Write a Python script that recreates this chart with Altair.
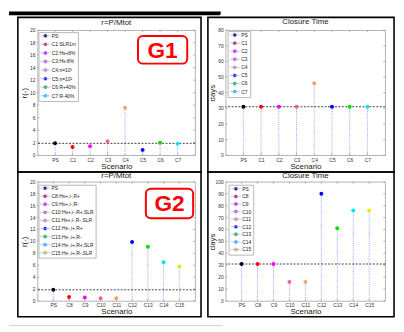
import altair as alt
import pandas as pd

# ---------------- data ----------------
g1_scen = ["PS", "C1", "C2", "C3", "C4", "C5", "C6", "C7"]
g1_leg_r = ["PS", "C1:SLR1m", "C2:Hs+8%", "C3:Hs-8%", "C4:n=10³", "C5:n=10²", "C6:R+40%", "C7:R-40%"]
g1_r = [1.9, 1.3, 1.45, 2.25, 7.6, 0.85, 2.0, 1.85]
g1_days = [31, 31, 31, 31, 46, 31, 31, 31]
g1_colors = ["#000022", "#ff0000", "#ff00ff", "#f0609a", "#f4a460", "#0000ff", "#00dd00", "#00e5ff"]

g2_scen = ["PS", "C8", "C9", "C10", "C11", "C12", "C13", "C14", "C15"]
g2_leg_r = ["PS", "C8:Hs+,i-,R+", "C9:Hs+,i-,R-", "C10:Hs+,i-,R+,SLR", "C11:Hs+,i-,R-,SLR",
            "C12:Hs-,i+,R+", "C13:Hs-,i+,R-", "C14:Hs-,i+,R+,SLR", "C15:Hs-,i+,R-,SLR"]
g2_r = [1.87, 0.66, 0.6, 0.45, 0.45, 9.9, 9.1, 6.5, 5.8]
g2_days = [31, 31, 31, 16, 16, 90, 61, 76, 76]
g2_colors = ["#000022", "#ff0000", "#ff00ff", "#f0609a", "#f4a460", "#0000ff", "#00dd00", "#00e5ff", "#e8e800"]

r_ticks = [0, 2, 4, 6, 8, 10, 12, 14, 16, 18, 20]
days80_ticks = [0, 10, 20, 30, 40, 50, 60, 70, 80]
days100_ticks = [0, 10, 20, 30, 40, 50, 60, 70, 80, 90, 100]

panel_titles = ["r=P/Mtot", "Closure Time", "r=P/Mtot", "Closure Time"]
badges = ["G1", "G2"]

FONT = "Liberation Sans"
STEM = "#9aa0ff"
TICK = "#8a8a8a"
SYM = "M-1,0L1,0M0.35,0A0.35,0.35,0,1,1,-0.35,0A0.35,0.35,0,1,1,0.35,0Z"


def panel(scen, leg, vals, colors, ticks, title, title_y, ytitle, w, h, frame,
          lx, ly, lpad, lrow, badge=None, badge_box=None, extras=None):
    df = pd.DataFrame({"s": scen, "lab": leg, "v": vals})
    ymax = ticks[-1]
    yscale = alt.Scale(domain=[0, ymax], nice=False)
    x = alt.X("s:N", sort=scen, scale=alt.Scale(type="point", padding=1),
              axis=alt.Axis(title="Scenario", labelAngle=0))
    y = alt.Y("v:Q", scale=yscale,
              axis=alt.Axis(title=ytitle, labels=False, titlePadding=9))
    one = pd.DataFrame({"k": [0]})
    fr = alt.Chart(one).mark_rect(fill="white", fillOpacity=0, stroke="black", strokeWidth=1.6).encode(
        x=alt.value(frame[0]), x2=alt.value(frame[1]), y=alt.value(frame[2]), y2=alt.value(frame[3]))
    tdf = pd.DataFrame({"t": [title]})
    ttl = alt.Chart(tdf).mark_text(font=FONT, fontSize=8, color="#222", align="center",
                                   baseline="middle").encode(
        text="t:N", x=alt.value(w / 2), y=alt.value(title_y))
    tkdf = pd.DataFrame({"tk": ticks})
    ylab = alt.Chart(tkdf).mark_text(
        font=FONT, fontSize=5, color="#333", align="right", baseline="middle").encode(
        y=alt.Y("tk:Q", scale=yscale), x=alt.value(-2), text="tk:Q")
    ytl = alt.Chart(tkdf).mark_rule(color=TICK, strokeWidth=0.6).encode(
        y=alt.Y("tk:Q", scale=yscale), x=alt.value(0), x2=alt.value(2))
    ytr = alt.Chart(tkdf).mark_rule(color=TICK, strokeWidth=0.6).encode(
        y=alt.Y("tk:Q", scale=yscale), x=alt.value(w - 2), x2=alt.value(w))
    xtb = alt.Chart(df).mark_rule(color=TICK, strokeWidth=0.6).encode(
        x=x, y=alt.value(h - 2), y2=alt.value(h))
    xtt = alt.Chart(df).mark_rule(color=TICK, strokeWidth=0.6).encode(
        x=x, y=alt.value(0), y2=alt.value(2))
    stems = alt.Chart(df).mark_rule(color=STEM, strokeDash=[1, 1.2], strokeWidth=1).encode(
        x=x, y=y, y2=alt.datum(0))
    ref = alt.Chart(df[df.s == "PS"]).mark_rule(color="#111", strokeDash=[2, 1.5], strokeWidth=0.8).encode(
        y=alt.Y("v:Q", scale=yscale))
    pts = alt.Chart(df).mark_point(filled=True, size=16, opacity=1).encode(
        x=x, y=y,
        color=alt.Color("lab:N", sort=leg, scale=alt.Scale(domain=leg, range=colors),
                        legend=alt.Legend(title=None, orient="none", legendX=lx, legendY=ly,
                                          symbolType=SYM, symbolSize=100, symbolStrokeColor=STEM,
                                          symbolStrokeWidth=0.6, clipHeight=4.5, rowPadding=lrow,
                                          padding=lpad, labelFontSize=5, labelOffset=1,
                                          labelFont=FONT, labelColor="#222",
                                          fillColor="white", strokeColor="#b8b8b8")))
    layers = [fr, ttl, ytl, ytr, xtb, xtt, stems, ref, pts, ylab]
    if badge is not None:
        bdf = pd.DataFrame({"t": [badge]})
        bx0, bx1, by0, by1 = badge_box
        layers.append(alt.Chart(bdf).mark_rect(fill="white", stroke="#ff0000", strokeWidth=2,
                                               cornerRadius=5).encode(
            x=alt.value(bx0), x2=alt.value(bx1), y=alt.value(by0), y2=alt.value(by1)))
        layers.append(alt.Chart(bdf).mark_text(font=FONT, fontSize=23, fontWeight="bold", color="#ff0000",
                                               align="center", baseline="middle").encode(
            text="t:N", x=alt.value((bx0 + bx1) / 2), y=alt.value((by0 + by1) / 2 + 1)))
    if extras:
        layers += extras
    return alt.layer(*layers).properties(width=w, height=h)


one = pd.DataFrame({"k": [0]})
black_bar = alt.Chart(one).mark_rect(color="black", cornerRadiusBottomRight=6).encode(
    x=alt.value(-29), x2=alt.value(186), y=alt.value(-19), y2=alt.value(-15))
gray_line = alt.Chart(one).mark_rule(color="#d0d0d0", strokeWidth=1).encode(
    x=alt.value(-29), x2=alt.value(188), y=alt.value(146))

tl = panel(g1_scen, g1_leg_r, g1_r, g1_colors, r_ticks, panel_titles[0], -7, "r(-)", 160, 127,
           (-20, 166, -13, 144), 1, 2, 1.5, 2.7, badge=badges[0], badge_box=(102, 152, 6, 34),
           extras=[black_bar])
tr = panel(g1_scen, g1_scen, g1_days, g1_colors, days80_ticks, panel_titles[1], -8, "days", 162, 127,
           (-18, 171, -13, 144), 2, 1, 1.75, 2.2)
bl = panel(g2_scen, g2_leg_r, g2_r, g2_colors, r_ticks, panel_titles[2], -6, "r(-)", 160, 121,
           (-20, 166, -10, 137), 1, 3, 1.2, 2.2, badge=badges[1], badge_box=(110, 158, 7, 37),
           extras=[gray_line])
br = panel(g2_scen, g2_scen, g2_days, g2_colors, days100_ticks, panel_titles[3], -6, "days", 162, 121,
           (-18, 171, -10, 137), 3, 3, 1.9, 1.7)

chart = alt.concat(tl, tr, bl, br, columns=2, spacing={"row": 27, "column": 31},
                   bounds="flush", align="each").resolve_scale(
    color="independent", x="independent", y="independent").resolve_legend(
    color="independent").properties(padding=0).configure_view(
    stroke="#a0a0a0", strokeWidth=0.8).configure_axis(
    labelFontSize=5, labelFont=FONT, labelColor="#333", titleFont=FONT, titleFontSize=8,
    titleFontWeight="normal", titleColor="#222", ticks=False, domain=False, grid=False,
    labelPadding=2).configure_axisX(titlePadding=0)

chart.save("out.html", embed_options={"renderer": "svg", "actions": False})
